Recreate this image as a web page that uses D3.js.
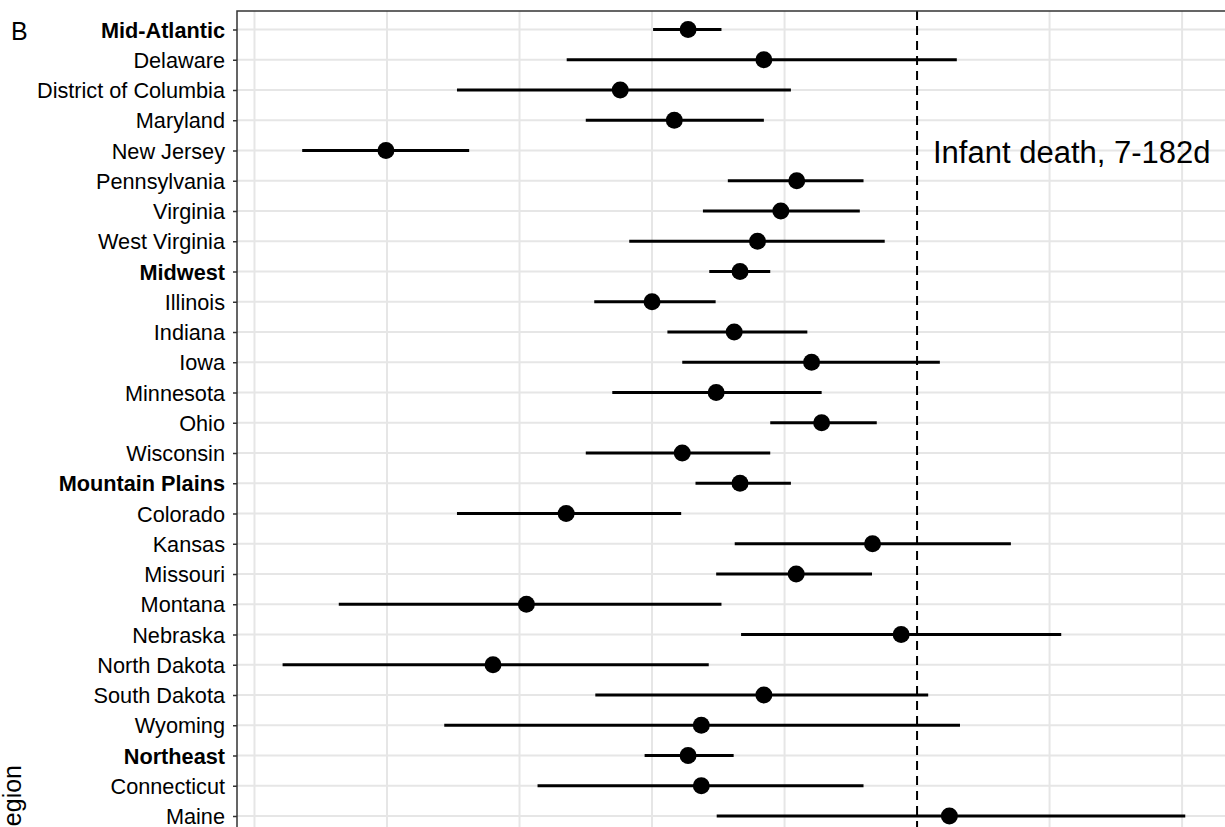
<!DOCTYPE html>
<html>
<head>
<meta charset="utf-8">
<script src="https://cdn.jsdelivr.net/npm/d3@7"></script>
<style>
  body { margin: 0; background: #fff; }
  svg { display: block; font-family: "Liberation Sans", Arial, Helvetica, sans-serif; }
</style>
</head>
<body>
<svg id="chart" width="1225" height="827"></svg>
<script>
// rows shown top to bottom (the figure is cropped below Maine)
const rows = [
  "Mid-Atlantic", "Delaware", "District of Columbia", "Maryland", "New Jersey",
  "Pennsylvania", "Virginia", "West Virginia",
  "Midwest", "Illinois", "Indiana", "Iowa", "Minnesota", "Ohio", "Wisconsin",
  "Mountain Plains", "Colorado", "Kansas", "Missouri", "Montana", "Nebraska",
  "North Dakota", "South Dakota", "Wyoming",
  "Northeast", "Connecticut", "Maine"
];
const regionRows = ["Mid-Atlantic", "Midwest", "Mountain Plains", "Northeast"];

// point estimates and interval ends (reference line at 0)
const estimate = [
  -0.432, -0.289, -0.560, -0.458, -1.002,
  -0.227, -0.257, -0.301,
  -0.334, -0.500, -0.345, -0.199, -0.379, -0.180, -0.443,
  -0.334, -0.662, -0.084, -0.228, -0.737, -0.030,
  -0.800, -0.289, -0.407,
  -0.432, -0.407, 0.061
];
const lower = [
  -0.498, -0.661, -0.868, -0.625, -1.160,
  -0.357, -0.404, -0.543,
  -0.392, -0.609, -0.471, -0.443, -0.575, -0.277, -0.625,
  -0.418, -0.868, -0.344, -0.379, -1.091, -0.332,
  -1.197, -0.607, -0.892,
  -0.514, -0.716, -0.378
];
const upper = [
  -0.369, 0.075, -0.238, -0.289, -0.845,
  -0.101, -0.108, -0.061,
  -0.277, -0.380, -0.207, 0.043, -0.180, -0.076, -0.277,
  -0.238, -0.445, 0.177, -0.085, -0.369, 0.272,
  -0.393, 0.021, 0.081,
  -0.346, -0.101, 0.506
];

const xGrid = [-1.25, -1, -0.75, -0.5, -0.25, 0, 0.25, 0.5];
const refValue = 0;
const panelLabel = "B";
const outcomeLabel = "Infant death, 7-182d";
const yTitle = "Region";

const data = rows.map((r, i) => ({ row: r, est: estimate[i], lo: lower[i], hi: upper[i] }));

const panel = { left: 237, top: 11, right: 1260, bottom: 860 };

const svg = d3.select("#chart");

const x = d3.scaleLinear()
  .domain([-1.283, 0.647])
  .range([panel.left, panel.right]);

const y = d3.scalePoint()
  .domain(rows)
  .range([29.5, 816]);

// grid
const grid = svg.append("g");
grid.selectAll("line.v")
  .data(xGrid.filter(d => d !== refValue))
  .enter().append("line")
  .attr("class", "v")
  .attr("x1", d => x(d)).attr("x2", d => x(d))
  .attr("y1", panel.top).attr("y2", panel.bottom)
  .attr("stroke", "#e6e6e6")
  .attr("stroke-width", 2);

grid.selectAll("line.h")
  .data(rows)
  .enter().append("line")
  .attr("class", "h")
  .attr("x1", panel.left).attr("x2", panel.right)
  .attr("y1", d => y(d)).attr("y2", d => y(d))
  .attr("stroke", "#e6e6e6")
  .attr("stroke-width", 2);

// intervals
svg.append("g")
  .selectAll("line")
  .data(data)
  .enter().append("line")
  .attr("x1", d => x(d.lo)).attr("x2", d => x(d.hi))
  .attr("y1", d => y(d.row)).attr("y2", d => y(d.row))
  .attr("stroke", "#000")
  .attr("stroke-width", 3);

// reference line
svg.append("line")
  .attr("x1", x(refValue)).attr("x2", x(refValue))
  .attr("y1", panel.top).attr("y2", panel.bottom)
  .attr("stroke", "#000")
  .attr("stroke-width", 2)
  .attr("stroke-dasharray", "9,6");

// points
svg.append("g")
  .selectAll("circle")
  .data(data)
  .enter().append("circle")
  .attr("cx", d => x(d.est))
  .attr("cy", d => y(d.row))
  .attr("r", 8.5)
  .attr("fill", "#000");

// panel border (right and bottom fall outside the crop)
svg.append("rect")
  .attr("x", panel.left).attr("y", panel.top)
  .attr("width", panel.right - panel.left)
  .attr("height", panel.bottom - panel.top)
  .attr("fill", "none")
  .attr("stroke", "#333")
  .attr("stroke-width", 1.5);

// y axis
const yAxis = svg.append("g")
  .attr("transform", `translate(${panel.left},0)`)
  .call(d3.axisLeft(y).tickSize(4).tickPadding(8));
yAxis.select(".domain").remove();
yAxis.selectAll(".tick line").attr("stroke", "#333").attr("stroke-width", 1.5);
yAxis.selectAll(".tick text")
  .attr("fill", "#000")
  .style("font-size", "21.7px")
  .style("font-weight", d => regionRows.includes(d) ? "bold" : "normal")
  .attr("dy", "0.35em");

// axis title, cut by the bottom edge as in the source figure
svg.append("text")
  .attr("transform", "translate(21,765) rotate(-90)")
  .attr("text-anchor", "end")
  .attr("fill", "#000")
  .style("font-size", "25px")
  .text(yTitle);

svg.append("text")
  .attr("x", 11).attr("y", 40)
  .attr("fill", "#000")
  .style("font-size", "25px")
  .text(panelLabel);

svg.append("text")
  .attr("x", 933).attr("y", 163)
  .attr("fill", "#000")
  .style("font-size", "31px")
  .text(outcomeLabel);
</script>
</body>
</html>
